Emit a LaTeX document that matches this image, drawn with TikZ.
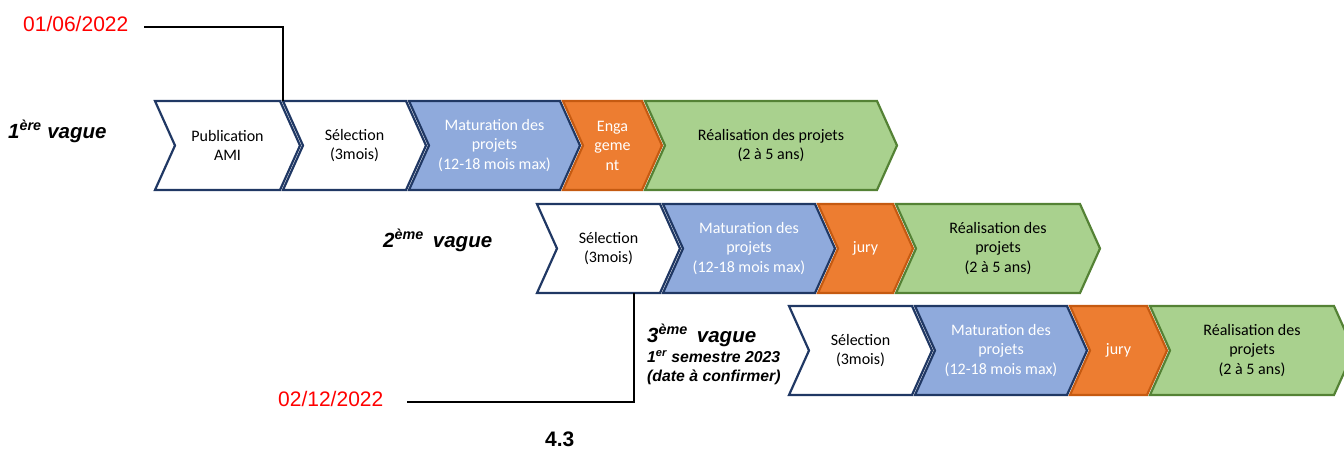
\documentclass[tikz,border=0pt]{standalone}
\usepackage{fontspec}
\setmainfont{Carlito}
\newfontfamily\arial{Liberation Sans}
\definecolor{navy}{HTML}{203864}
\definecolor{matfill}{HTML}{8FAADC}
\definecolor{orfill}{HTML}{ED7D31}
\definecolor{ordraw}{HTML}{C55A11}
\definecolor{grfill}{HTML}{A9D18E}
\definecolor{grdraw}{HTML}{548235}
\definecolor{datered}{HTML}{FF0000}
\tikzset{
  wbox/.style={draw=navy,fill=white,line width=2.2pt,line join=miter},
  bbox/.style={draw=navy,fill=matfill,line width=2.2pt,line join=miter},
  obox/.style={draw=ordraw,fill=orfill,line width=2.2pt,line join=miter},
  gbox/.style={draw=grdraw,fill=grfill,line width=2.2pt,line join=miter},
  dtxt/.style={text=black,align=center,font=\fontsize{16}{19.5}\selectfont,inner sep=0pt},
  ltxt/.style={text=white,align=center,font=\fontsize{16}{19.5}\selectfont,inner sep=0pt},
  vague/.style={font=\arial\bfseries\itshape\fontsize{20.5}{24}\selectfont,anchor=base west,inner sep=0pt},
  small/.style={font=\arial\bfseries\itshape\fontsize{15.8}{18}\selectfont,anchor=base west,inner sep=0pt},
  datelbl/.style={font=\arial\fontsize{21}{25}\selectfont,text=datered,anchor=base west,inner sep=0pt},
  dateline/.style={draw=black,line width=2.2pt},
}
% #1 name, #2 box style, #3 text style, #4 left x, #5 right x, #6 top y, #7 bottom y, #8 text
\newcommand\chev[8]{%
  \path[#2] (#4,#6) coordinate (#1-tl) -- (#5,#6) -- ({#5+20},{(#6+#7)/2}) -- (#5,#7) -- (#4,#7) -- ({#4+20},{(#6+#7)/2}) -- cycle;
  \node[#3] (#1) at ({(#4+#5+20)/2},{(#6+#7)/2}) {#8};
}
\begin{document}
\begin{tikzpicture}[x=1pt,y=-1pt]
\useasboundingbox (0,0) rectangle (1344,450);
\begin{scope}
\clip (0,0) rectangle (1344,450);
% row 1
\chev{pub}{wbox}{dtxt}{155}{280}{101}{190}{Publication\\AMI}
\chev{sela}{wbox}{dtxt}{283}{406}{101}{190}{Sélection\\(3mois)}
\chev{mata}{bbox}{ltxt}{409}{560}{101}{190}{Maturation des\\projets\\(12-18 mois max)}
\chev{eng}{obox}{ltxt}{563}{642}{101}{190}{Enga\\geme\\nt}
\chev{reaa}{gbox}{dtxt}{645}{877}{101}{190}{Réalisation des projets\\(2 à 5 ans)}
% row 2
\chev{selb}{wbox}{dtxt}{537}{660}{204}{293}{Sélection\\(3mois)}
\chev{matb}{bbox}{ltxt}{663}{815}{204}{293}{Maturation des\\projets\\(12-18 mois max)}
\chev{juryb}{obox}{ltxt}{818}{893}{204}{293}{jury}
\chev{reab}{gbox}{dtxt}{896}{1080}{204}{293}{Réalisation des\\projets\\(2 à 5 ans)}
% row 3
\chev{selc}{wbox}{dtxt}{789}{912}{306}{395}{Sélection\\(3mois)}
\chev{matc}{bbox}{ltxt}{915}{1067}{306}{395}{Maturation des\\projets\\(12-18 mois max)}
\chev{juryc}{obox}{ltxt}{1070}{1147}{306}{395}{jury}
\chev{reac}{gbox}{dtxt}{1150}{1334}{306}{395}{Réalisation des\\projets\\(2 à 5 ans)}
\end{scope}
% wave labels
\node[vague] (v1) at (8,138) {1\textsuperscript{ère} vague};
\node[vague] (v2) at (383,247) {2\textsuperscript{ème}\, vague};
\node[vague] (v3) at (647,342) {3\textsuperscript{ème}\, vague};
\node[small] (v3b) at (647,362) {1\textsuperscript{er} semestre 2023};
\node[small] (v3c) at (647,381) {(date à confirmer)};
% dates
\node[datelbl] (d1) at (23,31) {01/06/2022};
\node[datelbl] (d2) at (278,406) {02/12/2022};
\coordinate (c1) at (144,27);
\coordinate (c2) at (407,402);
\coordinate (selb-b) at (634,293);
\draw[dateline] (c1) -| (sela-tl);
\draw[dateline] (c2) -| (selb-b);
% footer
\node[font=\arial\bfseries\fontsize{21}{24}\selectfont,anchor=base west,inner sep=0pt] (num) at (545,446) {4.3};
\end{tikzpicture}
\end{document}
